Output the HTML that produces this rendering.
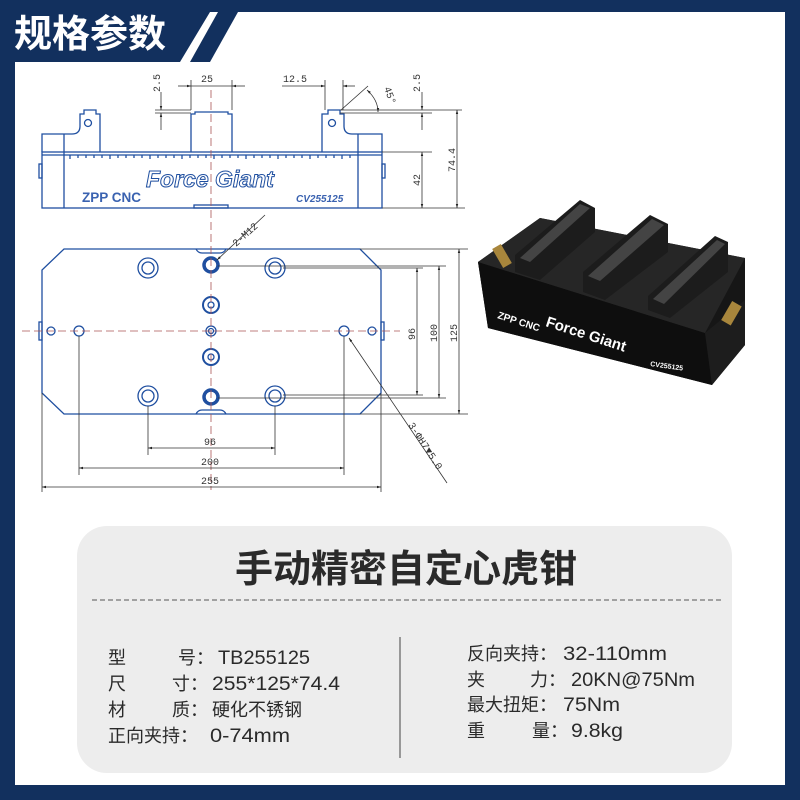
<!DOCTYPE html>
<html><head><meta charset="utf-8"><style>
html,body{margin:0;padding:0}
body{width:800px;height:800px;background:#12305e;position:relative;overflow:hidden;font-family:"Liberation Sans","Noto Sans CJK SC",sans-serif}
.abs{position:absolute}
</style></head><body>
<svg class="abs" style="left:0;top:0" width="800" height="800" viewBox="0 0 800 800">
<defs>
<marker id="a" viewBox="0 0 10 10" refX="10" refY="5" markerWidth="7" markerHeight="5" orient="auto-start-reverse"><path d="M0,2 L10,5 L0,8 z" fill="#222"/></marker>
</defs>
<polygon points="15,62 180,62 210,12 785,12 785,785 15,785" fill="#fff"/>
<polygon points="190,62 218,12 238,12 210,62" fill="#12305e"/>
<text x="14" y="47" font-size="38" font-weight="bold" fill="#fff" font-family="Noto Sans CJK SC,sans-serif">规格参数</text>

<g fill="none" stroke="#1f4fa0" stroke-width="1.3">
<rect x="42" y="152" width="340" height="56"/>
<line x1="42" y1="155" x2="382" y2="155"/>
<line x1="64" y1="134" x2="64" y2="208"/>
<line x1="358" y1="134" x2="358" y2="208"/>
<path d="M42,152 V134 H72 Q80,134 80,126 V114 H84 V110 H96 V114 H100 V152"/>
<path d="M382,152 V134 H352 Q344,134 344,126 V114 H340 V110 H328 V114 H322 V152"/>
<path d="M191,152 V114 H195 V112 H228 V114 H232 V152"/>
<circle cx="88" cy="123" r="3.5"/><circle cx="332" cy="123" r="3.5"/>
<rect x="194" y="205" width="34" height="3"/>
<rect x="39" y="164" width="3" height="14"/><rect x="382" y="164" width="3" height="14"/>
<path d="M70,155v4 M78,155v3 M86,155v3 M94,155v3 M102,155v3 M110,155v4 M118,155v3 M126,155v3 M134,155v3 M142,155v3 M150,155v4 M158,155v3 M166,155v3 M174,155v3 M182,155v4 M190,155v3 M198,155v3 M206,155v3 M214,155v4 M222,155v3 M230,155v3 M238,155v3 M246,155v4 M254,155v3 M262,155v3 M270,155v3 M278,155v4 M286,155v3 M294,155v3 M302,155v3 M310,155v4 M318,155v3 M326,155v3 M334,155v3 M342,155v4 M350,155v3"/>
<polygon points="64,249 360,249 381,270 381,393 360,414 64,414 42,393 42,270"/>
<path d="M196,249 q2,4 6,4 h18 q4,0 6,-4"/>
<path d="M196,414 q2,-4 6,-4 h18 q4,0 6,4"/>
<circle cx="148" cy="268" r="10"/><circle cx="148" cy="268" r="6"/>
<circle cx="275" cy="268" r="10"/><circle cx="275" cy="268" r="6"/>
<circle cx="148" cy="396" r="10"/><circle cx="148" cy="396" r="6"/>
<circle cx="275" cy="396" r="10"/><circle cx="275" cy="396" r="6"/>
<circle cx="211" cy="305" r="8" stroke-width="2"/><circle cx="211" cy="305" r="3"/>
<circle cx="211" cy="357" r="8" stroke-width="2"/><circle cx="211" cy="357" r="3"/>
<circle cx="211" cy="331" r="5"/><circle cx="211" cy="331" r="2.5"/>
<circle cx="211" cy="265" r="7" stroke-width="3.5"/>
<circle cx="211" cy="397" r="7" stroke-width="3.5"/>
<circle cx="79" cy="331" r="5"/><circle cx="344" cy="331" r="5"/>
<circle cx="51" cy="331" r="4"/><circle cx="372" cy="331" r="4"/>
<rect x="39" y="322" width="3" height="18"/><rect x="381" y="322" width="3" height="18"/>
</g>
<g stroke="#333" stroke-width="0.8" fill="#333">
<g fill="none">
<line x1="211" y1="90" x2="211" y2="490" stroke="#a55" stroke-dasharray="8,4"/>
<line x1="22" y1="331" x2="400" y2="331" stroke="#a55" stroke-dasharray="8,4"/>
<line x1="191" y1="80" x2="191" y2="110"/><line x1="232" y1="80" x2="232" y2="110"/>
<line x1="178" y1="86" x2="191" y2="86" marker-end="url(#a)"/><line x1="245" y1="86" x2="232" y2="86" marker-end="url(#a)"/>
<line x1="191" y1="86" x2="232" y2="86"/>
<line x1="155" y1="110" x2="191" y2="110"/><line x1="155" y1="113" x2="191" y2="113"/>
<line x1="161" y1="92" x2="161" y2="110" marker-end="url(#a)"/><line x1="161" y1="130" x2="161" y2="113" marker-end="url(#a)"/>
<line x1="282" y1="86" x2="325" y2="86" marker-end="url(#a)"/><line x1="355" y1="86" x2="343" y2="86" marker-end="url(#a)"/>
<line x1="325" y1="80" x2="325" y2="110"/><line x1="343" y1="80" x2="343" y2="110"/>
<line x1="341" y1="110" x2="368" y2="86"/>
<path d="M367,90 Q378,100 378,112" marker-start="url(#a)" marker-end="url(#a)"/>
<line x1="340" y1="110" x2="462" y2="110"/><line x1="340" y1="113" x2="432" y2="113"/>
<line x1="422" y1="92" x2="422" y2="110" marker-end="url(#a)"/><line x1="422" y1="130" x2="422" y2="113" marker-end="url(#a)"/>
<line x1="382" y1="152" x2="432" y2="152"/><line x1="382" y1="208" x2="465" y2="208"/>
<line x1="422" y1="152" x2="422" y2="208" marker-start="url(#a)" marker-end="url(#a)"/>
<line x1="457" y1="110" x2="457" y2="208" marker-start="url(#a)" marker-end="url(#a)"/>
<line x1="360" y1="249" x2="468" y2="249"/><line x1="360" y1="414" x2="468" y2="414"/>
<line x1="218" y1="266" x2="446" y2="266"/><line x1="218" y1="398" x2="446" y2="398"/>
<line x1="283" y1="268" x2="423" y2="268"/><line x1="283" y1="395" x2="423" y2="395"/>
<line x1="459" y1="249" x2="459" y2="414" marker-start="url(#a)" marker-end="url(#a)"/>
<line x1="439" y1="266" x2="439" y2="398" marker-start="url(#a)" marker-end="url(#a)"/>
<line x1="417" y1="268" x2="417" y2="395" marker-start="url(#a)" marker-end="url(#a)"/>
<line x1="148" y1="406" x2="148" y2="455"/><line x1="275" y1="406" x2="275" y2="455"/>
<line x1="148" y1="448" x2="275" y2="448" marker-start="url(#a)" marker-end="url(#a)"/>
<line x1="79" y1="336" x2="79" y2="475"/><line x1="344" y1="336" x2="344" y2="475"/>
<line x1="79" y1="468" x2="344" y2="468" marker-start="url(#a)" marker-end="url(#a)"/>
<line x1="42" y1="393" x2="42" y2="492"/><line x1="381" y1="393" x2="381" y2="492"/>
<line x1="42" y1="487" x2="381" y2="487" marker-start="url(#a)" marker-end="url(#a)"/>
<line x1="265" y1="215" x2="217" y2="260" marker-end="url(#a)"/>
<line x1="447" y1="483" x2="349" y2="338" marker-end="url(#a)"/>
</g>
<g stroke="none" font-size="10" font-family="Liberation Mono">
<text x="201" y="82">25</text>
<text x="283" y="82">12.5</text>
<text transform="translate(160,92) rotate(-90)">2.5</text>
<text transform="translate(420,92) rotate(-90)">2.5</text>
<text transform="translate(384,88) rotate(70)">45°</text>
<text transform="translate(420,186) rotate(-90)">42</text>
<text transform="translate(455,172) rotate(-90)">74.4</text>
<text transform="translate(236,247) rotate(-42)">2-M12</text>
<text transform="translate(415,340) rotate(-90)">96</text>
<text transform="translate(437,342) rotate(-90)">100</text>
<text transform="translate(457,342) rotate(-90)">125</text>
<text transform="translate(408,425) rotate(57)">3-ΦH7▼5.0</text>
<text x="204" y="445">96</text>
<text x="201" y="465">200</text>
<text x="201" y="484">255</text>
</g>
</g>
<text x="146" y="187" font-size="23" font-style="italic" font-weight="bold" fill="#fff" stroke="#1f4fa0" stroke-width="1">Force Giant</text>
<g fill="#3a62b0">
<text x="82" y="202" font-size="13.5" font-weight="bold">ZPP CNC</text>
<text x="296" y="202" font-size="10" font-weight="bold" font-style="italic">CV255125</text>
</g>
<!-- product photo -->
<g>
<polygon points="478,262 540,218 745,258 745,345 712,385 488,328" fill="#161616"/>
<polygon points="478,262 705,333 712,385 488,328" fill="#0e0e0e"/>
<polygon points="705,333 745,300 745,345 712,385" fill="#1d1d1d"/>
<polygon points="478,262 540,218 745,258 705,333" fill="#262626"/>
<polygon points="515,255 580,200 595,208 595,232 540,280 515,272" fill="#1c1c1c"/>
<polygon points="520,258 580,204 590,208 530,262" fill="#444"/>
<polygon points="583,272 650,215 668,224 668,252 605,300 583,292" fill="#1c1c1c"/>
<polygon points="588,276 652,219 664,225 600,281" fill="#444"/>
<polygon points="648,296 715,236 728,242 728,272 670,318 648,310" fill="#1c1c1c"/>
<polygon points="653,299 717,240 725,244 664,304" fill="#444"/>
<rect x="720" y="308" width="22" height="11" fill="#a8863c" transform="rotate(-60 731 313)"/>
<rect x="497" y="245" width="10" height="22" fill="#a8863c" transform="rotate(-30 502 256)"/>
<text transform="translate(545,326) rotate(18)" font-size="15" font-weight="bold" fill="#fff">Force Giant</text>
<text transform="translate(497,318) rotate(18)" font-size="10" font-weight="bold" fill="#fff">ZPP CNC</text>
<text transform="translate(650,366) rotate(8)" font-size="7" font-weight="bold" fill="#fff">CV255125</text>
</g>
<!-- card -->
<rect x="77" y="526" width="655" height="247" rx="30" fill="#ededed"/>
<line x1="92" y1="600" x2="722" y2="600" stroke="#555" stroke-dasharray="5,3" stroke-width="1"/>
<line x1="400" y1="637" x2="400" y2="758" stroke="#444" stroke-width="1"/>
<text x="406" y="582" font-size="38" fill="#2a2a2a" text-anchor="middle" font-weight="bold" font-family="Noto Sans CJK SC,sans-serif">手动精密自定心虎钳</text>
<g font-size="18" fill="#2a2a2a" font-family="Noto Sans CJK SC,sans-serif">
<text x="108" y="664">型</text><text x="178" y="664">号：</text>
<text x="108" y="690">尺</text><text x="172" y="690">寸：</text>
<text x="108" y="716">材</text><text x="172" y="716">质：</text><text x="212" y="716">硬化不锈钢</text>
<text x="108" y="742">正向夹持：</text>
<text x="467" y="660">反向夹持：</text>
<text x="467" y="686">夹</text><text x="530" y="686">力：</text>
<text x="467" y="711">最大扭矩：</text>
<text x="467" y="737">重</text><text x="532" y="737">量：</text>
</g>
<g font-size="19" fill="#2a2a2a" font-family="Liberation Sans,sans-serif">
<text x="218" y="664" textLength="92" lengthAdjust="spacingAndGlyphs">TB255125</text>
<text x="212" y="690" textLength="128" lengthAdjust="spacingAndGlyphs">255*125*74.4</text>
<text x="210" y="742" textLength="80" lengthAdjust="spacingAndGlyphs">0-74mm</text>
<text x="563" y="660" textLength="104" lengthAdjust="spacingAndGlyphs">32-110mm</text>
<text x="571" y="686" textLength="124" lengthAdjust="spacingAndGlyphs">20KN@75Nm</text>
<text x="563" y="711" textLength="57" lengthAdjust="spacingAndGlyphs">75Nm</text>
<text x="571" y="737" textLength="52" lengthAdjust="spacingAndGlyphs">9.8kg</text>
</g>
</svg>
</body></html>
